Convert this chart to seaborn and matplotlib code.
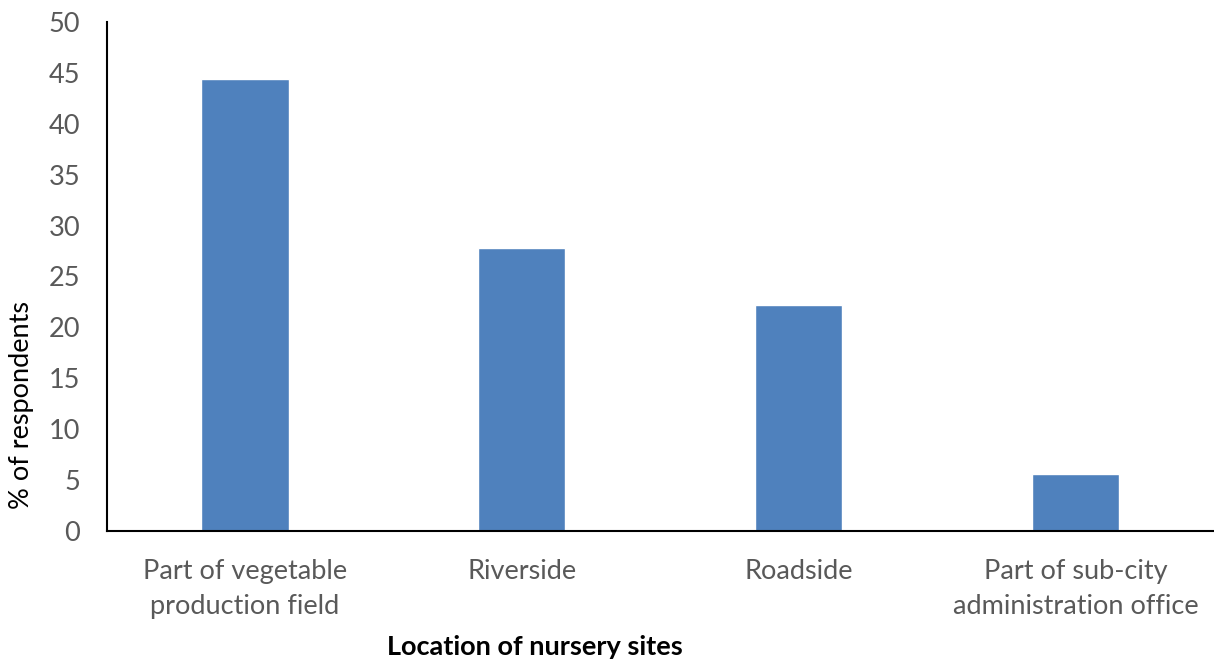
import matplotlib
matplotlib.use("Agg")
import matplotlib.pyplot as plt
import seaborn as sns
import pandas as pd

categories = ["Part of vegetable\nproduction field", "Riverside", "Roadside",
              "Part of sub-city\nadministration office"]
percent = [44.4, 27.8, 22.2, 5.6]
y_ticks = [0, 5, 10, 15, 20, 25, 30, 35, 40, 45, 50]

sns.set_theme(style="white")
plt.rcParams["font.family"] = ["Lato", "DejaVu Sans"]

df = pd.DataFrame({"site": categories, "pct": percent})

fig = plt.figure(figsize=(12.14, 6.61), dpi=100)
ax = fig.add_axes([106.5 / 1214, 130 / 661, 1 - 106.5 / 1214, 509 / 661])

sns.barplot(data=df, x="site", y="pct", color="#4F81BD", saturation=1,
            width=0.315, ax=ax)

ax.set_ylim(0, 50)
ax.set_xlim(-0.5, 3.5)
ax.set_yticks(y_ticks)
ax.tick_params(axis="y", labelsize=19.5, labelcolor="#595959", length=0, pad=19)
ax.tick_params(axis="x", labelsize=19.5, labelcolor="#595959", length=0, pad=20)
for lab in ax.get_xticklabels():
    lab.set_linespacing(1.5)

for side in ["top", "right"]:
    ax.spines[side].set_visible(False)
for side in ["left", "bottom"]:
    ax.spines[side].set_color("#000000")
    ax.spines[side].set_linewidth(1.5)

ax.set_xlabel("")
ax.set_ylabel("")
fig.text(22 / 1214, 1 - 405 / 661, "% of respondents", rotation=90,
         ha="center", va="center", fontsize=19.5, color="#000000")
fig.text(535 / 1214, 1 - 647 / 661, "Location of nursery sites",
         ha="center", va="center", fontsize=19.5, fontweight="bold", color="#000000")

fig.savefig("out.png", dpi=100)
